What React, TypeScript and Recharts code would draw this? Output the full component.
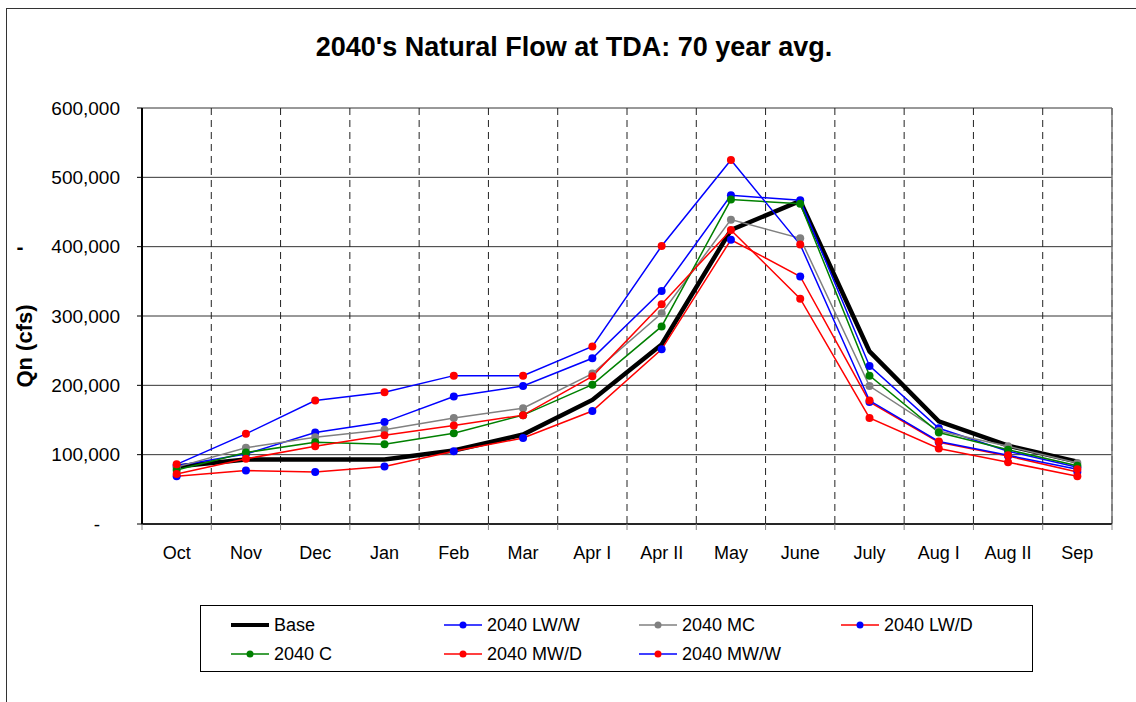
import React from 'react';
import {
  LineChart, Line, XAxis, YAxis, CartesianGrid, ReferenceLine, Legend,
} from 'recharts';

const categories = ['Oct', 'Nov', 'Dec', 'Jan', 'Feb', 'Mar', 'Apr I', 'Apr II', 'May', 'June', 'July', 'Aug I', 'Aug II', 'Sep'];

const base = [83000, 93000, 93000, 93000, 106000, 129000, 179000, 259000, 424000, 466000, 249000, 148000, 113000, 90000];
const lwW = [84000, 101000, 132000, 147000, 184000, 199000, 239000, 336000, 474000, 467000, 228000, 138000, 105000, 82000];
const mc = [82000, 110000, 125000, 136000, 153000, 167000, 217000, 304000, 439000, 412000, 199000, 134000, 112000, 88000];
const lwD = [69000, 77000, 75000, 83000, 105000, 124000, 163000, 252000, 410000, 357000, 176000, 118000, 98000, 75000];
const c = [78000, 103000, 118000, 115000, 131000, 157000, 201000, 285000, 468000, 462000, 214000, 132000, 107000, 84000];
const mwD = [72000, 94000, 112000, 128000, 142000, 157000, 213000, 317000, 424000, 325000, 153000, 109000, 89000, 69000];
const mwW = [86000, 130000, 178000, 190000, 214000, 214000, 256000, 401000, 525000, 403000, 178000, 119000, 99000, 79000];

const yTicks = [0, 100000, 200000, 300000, 400000, 500000, 600000];

const FONT = '"Liberation Sans", Arial, sans-serif';

interface Series { key: string; name: string; values: number[]; line: string; marker?: string; width: number; }

const SERIES: Series[] = [
  { key: 'base', name: 'Base', values: base, line: '#000000', width: 4.5 },
  { key: 'lwW', name: '2040 LW/W', values: lwW, line: '#0000ff', marker: '#0000ff', width: 1.5 },
  { key: 'mc', name: '2040 MC', values: mc, line: '#808080', marker: '#808080', width: 1.5 },
  { key: 'lwD', name: '2040 LW/D', values: lwD, line: '#ff0000', marker: '#0000ff', width: 1.5 },
  { key: 'c', name: '2040 C', values: c, line: '#008000', marker: '#008000', width: 1.5 },
  { key: 'mwD', name: '2040 MW/D', values: mwD, line: '#ff0000', marker: '#ff0000', width: 1.5 },
  { key: 'mwW', name: '2040 MW/W', values: mwW, line: '#0000ff', marker: '#ff0000', width: 1.5 },
];

const data = categories.map((cat, i) => {
  const row: Record<string, number | string> = { idx: i, cat };
  SERIES.forEach((s) => { row[s.key] = s.values[i]; });
  return row;
});

// category boundaries, for the dashed verticals and the x tick marks
const bounds = categories.map((_, i) => i - 0.5).concat(categories.length - 0.5);
const centers = categories.map((_, i) => i);

function YTick({ x, y, payload }: any) {
  const v = payload.value as number;
  return (
    <text x={x} y={y} dx={v === 0 ? -20 : 0} dy="0.35em" textAnchor="end"
      fill="#000" fontSize={19} fontFamily={FONT}>
      {v === 0 ? '-' : v.toLocaleString('en-US')}
    </text>
  );
}

const LEGEND_COLS = [30, 243, 438, 640];

function LegendBox() {
  return (
    <div style={{
      position: 'relative', width: 833, height: 67, border: '1px solid #000',
      boxSizing: 'border-box', background: '#fff', fontFamily: FONT, fontSize: 18, color: '#000',
    }}>
      {SERIES.map((s, i) => {
        const row = Math.floor(i / 4);
        const col = i % 4;
        return (
          <div key={s.key} style={{
            position: 'absolute', left: LEGEND_COLS[col], top: 8 + row * 29,
            display: 'flex', alignItems: 'center', height: 22, whiteSpace: 'nowrap',
          }}>
            <svg width={38} height={12} style={{ marginRight: 5 }}>
              <line x1={0} y1={6} x2={38} y2={6} stroke={s.line} strokeWidth={s.key === 'base' ? 4 : 1.5} />
              {s.marker && <circle cx={19} cy={6} r={3.5} fill={s.marker} />}
            </svg>
            <span>{s.name}</span>
          </div>
        );
      })}
    </div>
  );
}

export default function App() {
  return (
    <div style={{
      position: 'absolute', left: 0, top: 0, width: 1136, height: 702,
      overflow: 'hidden', background: '#fff', fontFamily: FONT,
    }}>
      <div style={{
        position: 'absolute', left: 6, top: 8, width: 1200, height: 800,
        border: '1.5px solid #333', boxSizing: 'border-box',
      }} />
      <div style={{
        position: 'absolute', left: 0, width: 1148, top: 32, textAlign: 'center',
        fontSize: 27, fontWeight: 'bold', color: '#000',
      }}>
        2040's Natural Flow at TDA: 70 year avg.
      </div>
      <div style={{
        position: 'absolute', left: 25, top: 346, transform: 'translate(-50%, -50%) rotate(-90deg)',
        fontSize: 22, fontWeight: 'bold', whiteSpace: 'nowrap', color: '#000',
      }}>
        Qn (cfs)
      </div>
      <div style={{
        position: 'absolute', left: 20, top: 247, transform: 'translate(-50%, -50%)',
        fontSize: 21, fontWeight: 'bold', color: '#000',
      }}>
        -
      </div>
      <div style={{ position: 'absolute', left: 0, top: 0 }}>
        <LineChart width={1136} height={702} data={data}
          margin={{ top: 108, right: 24, bottom: 112, left: 0 }}>
          <CartesianGrid xAxisId="bounds" stroke="#333" strokeWidth={1} vertical={false} />
          <CartesianGrid xAxisId="bounds" stroke="#222" strokeDasharray="7 5" horizontal={false} />
          <XAxis xAxisId="bounds" dataKey="idx" type="number" domain={[-0.5, 13.5]}
            ticks={bounds} interval={0} height={6} tickSize={6} tickFormatter={() => ''}
            axisLine={{ stroke: '#000', strokeWidth: 1.5 }} tickLine={{ stroke: '#888' }} />
          <XAxis xAxisId="labels" dataKey="idx" type="number" domain={[-0.5, 13.5]}
            ticks={centers} interval={0} height={60} tickSize={0} tickMargin={16}
            axisLine={false} tickLine={false}
            tickFormatter={(v: number) => categories[v] ?? ''}
            tick={{ fontSize: 18, fill: '#000', fontFamily: FONT }} />
          <YAxis type="number" domain={[0, 600000]} ticks={yTicks} interval={0} width={142}
            tickSize={5} tickMargin={17} tick={<YTick />}
            axisLine={{ stroke: '#000', strokeWidth: 2 }} tickLine={{ stroke: '#000' }} />
          <ReferenceLine xAxisId="bounds" x={13.5} stroke="#777" strokeWidth={1.5} />
          {SERIES.map((s) => (
            <Line key={s.key} xAxisId="bounds" type="linear" dataKey={s.key} name={s.name}
              stroke={s.line} strokeWidth={s.width}
              dot={s.marker ? { r: 4, fill: s.marker, stroke: s.marker, strokeWidth: 0 } : false}
              activeDot={false} isAnimationActive={false} />
          ))}
          <Legend layout="vertical" align="center" verticalAlign="middle"
            wrapperStyle={{ position: 'absolute', left: 200, top: 605, width: 833 }}
            content={() => <LegendBox />} />
        </LineChart>
      </div>
    </div>
  );
}
